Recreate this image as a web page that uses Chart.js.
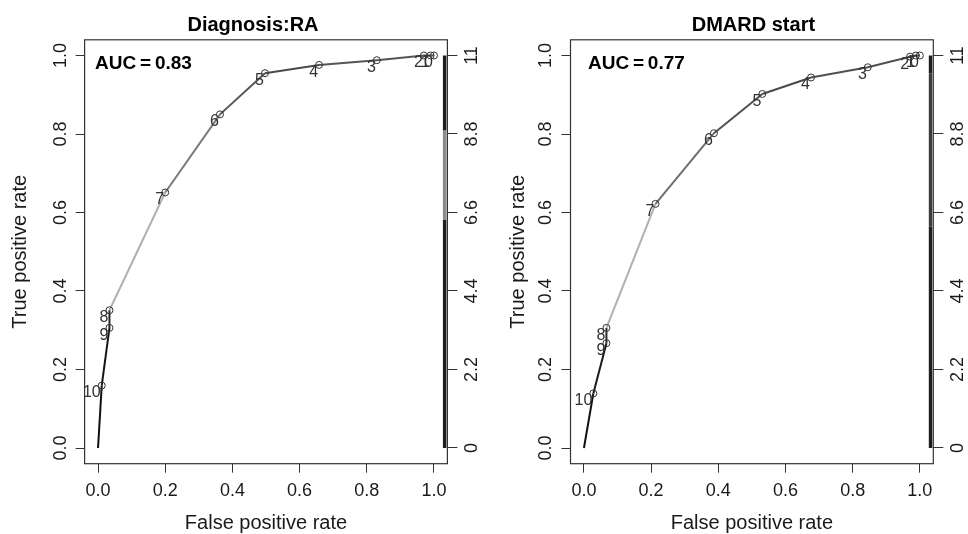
<!DOCTYPE html>
<html>
<head>
<meta charset="utf-8">
<script src="https://cdn.jsdelivr.net/npm/chart.js@4.4.1/dist/chart.umd.min.js"></script>
<style>
  html, body { margin: 0; padding: 0; background: #fff; }
  #wrap { position: relative; width: 968px; height: 534px; }
  canvas { position: absolute; top: 0; }
  #cLeft { left: 0; }
  #cRight { left: 484px; }
</style>
</head>
<body>
<div id="wrap">
  <canvas id="cLeft" width="484" height="534"></canvas>
  <canvas id="cRight" width="484" height="534"></canvas>
</div>
<script>
// cutoff printed at each curve vertex (first vertex has no label)
const cutoffs = [11, 10, 9, 8, 7, 6, 5, 4, 3, 2, 1, 0];

// Diagnosis:RA
const raFpr = [0, 0.011, 0.034, 0.034, 0.200, 0.363, 0.497, 0.658, 0.830, 0.970, 0.990, 1.000];
const raTpr = [0, 0.159, 0.306, 0.351, 0.651, 0.850, 0.955, 0.976, 0.988, 1.000, 1.000, 1.000];

// DMARD start
const dmFpr = [0, 0.028, 0.067, 0.067, 0.213, 0.387, 0.531, 0.676, 0.845, 0.971, 0.988, 1.000];
const dmTpr = [0, 0.139, 0.267, 0.306, 0.622, 0.802, 0.902, 0.944, 0.970, 0.997, 1.000, 1.000];

const xTicks = [0, 0.2, 0.4, 0.6, 0.8, 1.0];
const yTicks = [0, 0.2, 0.4, 0.6, 0.8, 1.0];
const cutTicks = [0, 2.2, 4.4, 6.6, 8.8, 11];

const titles = ['Diagnosis:RA', 'DMARD start'];
const aucs = [0.83, 0.77];

const FONT = '"Liberation Sans", Arial, Helvetica, sans-serif';

// grey of each curve segment (coloured by cutoff)
const raSeg = ['#111', '#151515', '#2a2a2a', '#b0b0b0', '#7a7a7a', '#555', '#4a4a4a', '#555', '#555', '#555', '#555'];
const dmSeg = ['#111', '#1a1a1a', '#2a2a2a', '#b0b0b0', '#6e6e6e', '#505050', '#4a4a4a', '#505050', '#505050', '#484848', '#484848'];

// colour bar bands along the cutoff axis
const raBar = [[0, 6.4, '#1e1e1e'], [6.4, 8.9, '#8a8a8a'], [8.9, 11, '#1e1e1e']];
const dmBar = [[0, 6.2, '#1e1e1e'], [6.2, 10.5, '#3c3c3c'], [10.5, 11, '#1e1e1e']];

function makePanel(canvasId, fpr, tpr, opts) {
    const pts = fpr.map((x, i) => ({ x: x, y: tpr[i] }));

    const decor = {
        id: 'decor',
        afterDatasetsDraw(chart) {
            const { ctx, chartArea: a, scales } = chart;
            const xs = scales.x, ys = scales.y, y2 = scales.y2;
            ctx.save();

            // colour bar on the right edge
            opts.bar.forEach(b => {
                const p0 = y2.getPixelForValue(b[0]);
                const p1 = y2.getPixelForValue(b[1]);
                ctx.fillStyle = b[2];
                ctx.fillRect(a.right - 4.5, p1, 3.5, p0 - p1);
            });

            // box
            ctx.strokeStyle = '#333';
            ctx.lineWidth = 1.2;
            ctx.strokeRect(a.left, a.top, a.right - a.left, a.bottom - a.top);

            // rotated tick labels, both sides
            ctx.fillStyle = '#1a1a1a';
            ctx.font = '18px ' + FONT;
            ctx.textAlign = 'center';
            ctx.textBaseline = 'middle';
            yTicks.forEach(v => {
                ctx.save();
                ctx.translate(a.left - 24, ys.getPixelForValue(v));
                ctx.rotate(-Math.PI / 2);
                ctx.fillText(v.toFixed(1), 0, 0);
                ctx.restore();
            });
            cutTicks.forEach(v => {
                ctx.save();
                ctx.translate(a.right + 25, y2.getPixelForValue(v));
                ctx.rotate(-Math.PI / 2);
                ctx.fillText(String(v), 0, 0);
                ctx.restore();
            });

            // cutoff labels next to points
            ctx.font = '16px ' + FONT;
            ctx.fillStyle = '#333';
            ctx.textAlign = 'right';
            const meta = chart.getDatasetMeta(0);
            meta.data.forEach((el, i) => {
                if (i === 0) return;
                ctx.fillText(String(cutoffs[i]), el.x - 1, el.y + 7.5);
            });

            // AUC
            ctx.fillStyle = '#000';
            ctx.font = 'bold 19px ' + FONT;
            ctx.textAlign = 'left';
            ctx.textBaseline = 'alphabetic';
            ctx.fillText('AUC\u2009=\u2009' + opts.auc.toFixed(2),
                xs.getPixelForValue(opts.aucX), ys.getPixelForValue(0.966));

            // title
            ctx.font = 'bold 20px ' + FONT;
            ctx.textAlign = 'center';
            ctx.fillText(opts.title, (a.left + a.right) / 2 + opts.titleDx, 31);

            ctx.restore();
        }
    };

    return new Chart(document.getElementById(canvasId), {
        type: 'scatter',
        data: {
            datasets: [{
                data: pts,
                showLine: true,
                borderWidth: 2,
                borderColor: '#555',
                segment: { borderColor: c => opts.seg[c.p0DataIndex] },
                pointRadius: c => (c.dataIndex === 0 ? 0 : 3.5),
                pointHoverRadius: 0,
                pointBorderColor: '#333',
                pointBackgroundColor: 'rgba(0,0,0,0)',
                pointBorderWidth: 1
            }]
        },
        options: {
            responsive: false,
            animation: false,
            devicePixelRatio: 1,
            layout: { padding: { top: 39.8, left: 0, right: 0, bottom: 0 } },
            plugins: { legend: { display: false }, tooltip: { enabled: false } },
            scales: {
                x: {
                    type: 'linear', position: 'bottom', min: -0.04, max: 1.04,
                    afterBuildTicks: s => { s.ticks = xTicks.map(v => ({ value: v })); },
                    afterFit: s => { s.height = 70.3; },
                    grid: { drawOnChartArea: false, drawTicks: true, tickLength: 9, color: '#333', lineWidth: 1 },
                    border: { display: false },
                    ticks: {
                        autoSkip: false, maxRotation: 0, padding: 8,
                        font: { size: 18, family: FONT }, color: '#1a1a1a',
                        callback: v => Number(v).toFixed(1)
                    },
                    title: {
                        display: true, text: 'False positive rate',
                        font: { size: 20, family: FONT }, color: '#1a1a1a',
                        padding: { top: 0, bottom: -1 }
                    }
                },
                y: {
                    type: 'linear', position: 'left', min: -0.04, max: 1.04,
                    afterBuildTicks: s => { s.ticks = yTicks.map(v => ({ value: v })); },
                    afterFit: s => { s.width = opts.leftW; },
                    grid: { drawOnChartArea: false, drawTicks: true, tickLength: 9, color: '#333', lineWidth: 1 },
                    border: { display: false },
                    ticks: { display: false, autoSkip: false },
                    title: {
                        display: true, text: 'True positive rate',
                        font: { size: 20, family: FONT }, color: '#1a1a1a',
                        padding: { top: opts.leftW - opts.titleGap - 12, bottom: 0 }
                    }
                },
                y2: {
                    type: 'linear', position: 'right', min: -0.44, max: 11.44,
                    afterBuildTicks: s => { s.ticks = cutTicks.map(v => ({ value: v })); },
                    afterFit: s => { s.width = 484 - opts.leftW - 362.8; },
                    grid: { drawOnChartArea: false, drawTicks: true, tickLength: 10, color: '#333', lineWidth: 1 },
                    border: { display: false },
                    ticks: { display: false, autoSkip: false }
                }
            }
        },
        plugins: [decor]
    });
}

makePanel('cLeft', raFpr, raTpr, {
    title: titles[0], auc: aucs[0], seg: raSeg, bar: raBar,
    leftW: 84.6, titleGap: 64, aucX: -0.009, titleDx: -13
});
makePanel('cRight', dmFpr, dmTpr, {
    title: titles[1], auc: aucs[1], seg: dmSeg, bar: dmBar,
    leftW: 86.5, titleGap: 52, aucX: 0.012, titleDx: 1.5
});
</script>
</body>
</html>
